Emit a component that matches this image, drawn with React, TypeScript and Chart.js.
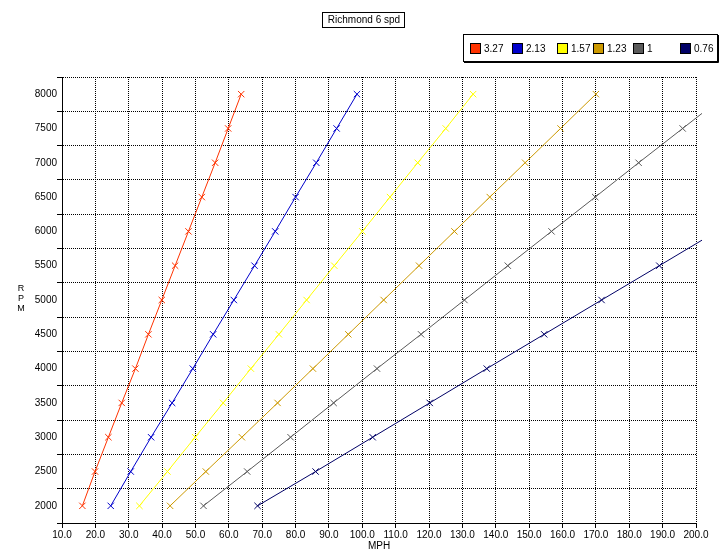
import React, { useEffect, useRef } from 'react';
import { Chart, registerables } from 'chart.js';

Chart.register(...registerables);

const TITLE = 'Richmond 6 spd';
const X_TITLE = 'MPH';
const Y_TITLE = ['R', 'P', 'M'];

const GEAR_LABELS = ['3.27', '2.13', '1.57', '1.23', '1', '0.76'];
const GEAR_COLORS = ['#FF3300', '#0000CC', '#FFFF00', '#CC9900', '#5A5A5A', '#000066'];

const RPM = [2000, 2500, 3000, 3500, 4000, 4500, 5000, 5500, 6000, 6500, 7000, 7500, 8000];

const MPH_327 = [16.1, 19.9, 23.9, 27.9, 32.0, 35.9, 39.9, 43.9, 47.9, 51.9, 55.9, 59.8, 63.7];
const MPH_213 = [24.6, 30.6, 36.7, 43.0, 49.2, 55.3, 61.5, 67.7, 73.9, 80.0, 86.2, 92.3, 98.4];
const MPH_157 = [33.2, 41.6, 49.9, 58.3, 66.6, 75.0, 83.3, 91.6, 100.0, 108.3, 116.6, 125.0, 133.2];
const MPH_123 = [42.4, 53.1, 63.9, 74.6, 85.2, 95.8, 106.4, 117.0, 127.6, 138.2, 148.8, 159.4, 170.0];
const MPH_100 = [52.4, 65.5, 78.5, 91.4, 104.4, 117.6, 130.6, 143.6, 156.7, 169.8, 182.8, 196.0, 209.2];
const MPH_076 = [68.6, 86.0, 103.1, 120.2, 137.3, 154.5, 171.7, 189.0, 206.2];

const SERIES = [MPH_327, MPH_213, MPH_157, MPH_123, MPH_100, MPH_076];

const X_MIN = 10;
const X_MAX = 200;
const X_STEP = 10;
const Y_LABEL_STEP = 500;
const Y_MIN = 1750;
const Y_MAX = 8250;

const FONT = '"Liberation Sans", Arial, sans-serif';

const decorPlugin = {
  id: 'decor',
  afterDraw(chart: any) {
    const ctx = chart.ctx as CanvasRenderingContext2D;
    ctx.save();
    // Title box
    const bx = 322, by = 12, bw = 82, bh = 15;
    ctx.fillStyle = '#fff';
    ctx.fillRect(bx, by, bw, bh);
    ctx.strokeStyle = '#000';
    ctx.lineWidth = 1;
    ctx.strokeRect(bx + 0.5, by + 0.5, bw, bh);
    ctx.font = `10px ${FONT}`;
    ctx.fillStyle = '#000';
    ctx.textAlign = 'center';
    ctx.textBaseline = 'middle';
    ctx.fillText(TITLE, bx + bw / 2 + 1, by + bh / 2 + 1);

    // Legend box
    const lx = 463, ly = 34, lw = 254, lh = 27;
    ctx.fillStyle = '#fff';
    ctx.fillRect(lx, ly, lw, lh);
    ctx.strokeRect(lx + 0.5, ly + 0.5, lw, lh);
    ctx.beginPath();
    ctx.moveTo(lx + 1, ly + lh + 1.5);
    ctx.lineTo(lx + lw + 1.5, ly + lh + 1.5);
    ctx.lineTo(lx + lw + 1.5, ly + 1);
    ctx.stroke();
    const itemX = [470, 512, 557, 593, 633, 680];
    ctx.textAlign = 'left';
    chart.data.datasets.forEach((ds: any, i: number) => {
      const x = itemX[i];
      ctx.fillStyle = ds.borderColor;
      ctx.fillRect(x, 43, 11, 11);
      ctx.strokeStyle = '#000';
      ctx.strokeRect(x + 0.5, 43.5, 10, 10);
      ctx.fillStyle = '#000';
      ctx.fillText(ds.label, x + 14, 49.5);
    });

    // Y title (stacked letters)
    ctx.font = `9px ${FONT}`;
    ctx.textAlign = 'center';
    Y_TITLE.forEach((ch, i) => {
      ctx.fillText(ch, 21, 289 + i * 10);
    });
    ctx.restore();
  },
};

export default function App() {
  const ref = useRef<HTMLCanvasElement | null>(null);

  useEffect(() => {
    document.body.style.margin = '0';
    const canvas = ref.current;
    if (!canvas) return;
    const datasets = SERIES.map((xs, i) => ({
      label: GEAR_LABELS[i],
      data: xs.map((x, j) => ({ x, y: RPM[j] })),
      borderColor: GEAR_COLORS[i],
      backgroundColor: GEAR_COLORS[i],
      pointBorderColor: GEAR_COLORS[i],
      borderWidth: 1,
      pointStyle: 'crossRot',
      pointRadius: 4.5,
      pointBorderWidth: 1,
      pointHoverRadius: 4.5,
      tension: 0,
      fill: false,
      clip: { left: 10, top: 10, right: 6, bottom: 10 },
    }));

    const chart = new Chart(canvas, {
      type: 'line',
      data: { datasets },
      options: {
        responsive: false,
        animation: false,
        devicePixelRatio: 1,
        font: { family: FONT, size: 10 },
        layout: { padding: { top: 77, right: 26, bottom: 0, left: 0 } },
        plugins: {
          legend: { display: false },
          title: { display: false },
          tooltip: { enabled: false },
        },
        scales: {
          x: {
            type: 'linear',
            min: X_MIN,
            max: X_MAX,
            afterFit: (s: any) => { s.height = 36; },
            ticks: {
              stepSize: X_STEP,
              autoSkip: false,
              maxRotation: 0,
              padding: 1,
              color: '#000',
              font: { family: FONT, size: 10 },
              callback: (v: any) => Number(v).toFixed(1),
            },
            grid: { color: '#000', lineWidth: 1, tickLength: 5, tickColor: '#000' },
            border: { display: true, color: '#000', width: 1, dash: [1, 1] },
            title: {
              display: true,
              text: X_TITLE,
              color: '#000',
              font: { family: FONT, size: 10 },
              padding: { top: 0, bottom: 7 },
            },
          },
          y: {
            type: 'linear',
            min: Y_MIN,
            max: Y_MAX,
            afterFit: (s: any) => { s.width = 62; },
            ticks: {
              stepSize: 250,
              autoSkip: false,
              padding: 0,
              color: '#000',
              font: { family: FONT, size: 10 },
              callback: (v: any) => (Number(v) % Y_LABEL_STEP === 0 ? String(v) : ''),
            },
            grid: {
              lineWidth: 1,
              tickLength: 5,
              color: (c: any) => (c.tick && c.tick.value % Y_LABEL_STEP === 0 ? 'rgba(0,0,0,0)' : '#000'),
              tickColor: (c: any) => (c.tick && c.tick.value % Y_LABEL_STEP === 0 ? 'rgba(0,0,0,0)' : '#000'),
            },
            border: { display: true, color: '#000', width: 1, dash: [1, 1] },
          },
        },
      },
      plugins: [decorPlugin],
    } as any);
    return () => chart.destroy();
  }, []);

  return (
    <div style={{ width: 722, height: 559, background: '#fff' }}>
      <canvas ref={ref} width={722} height={559} style={{ display: 'block' }} />
    </div>
  );
}
